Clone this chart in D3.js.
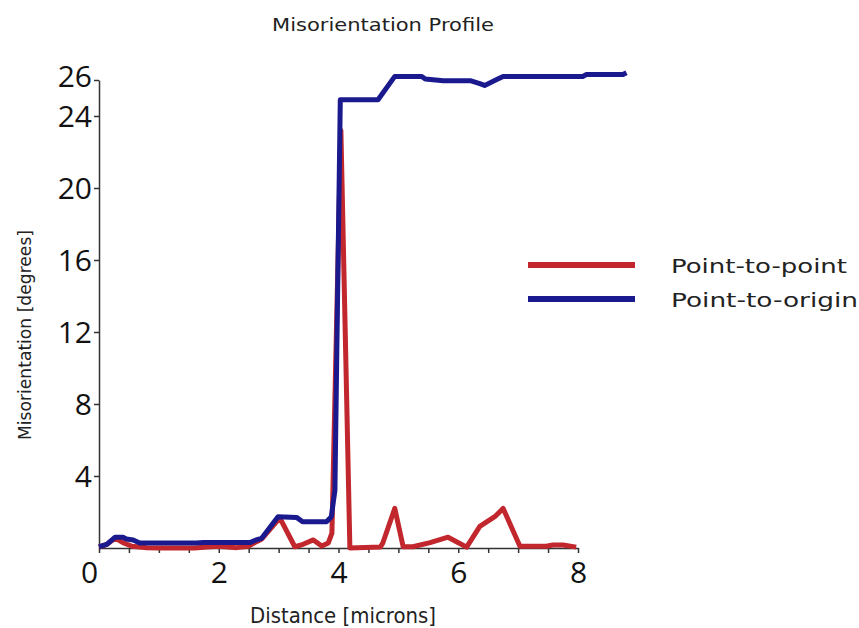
<!DOCTYPE html>
<html>
<head>
<meta charset="utf-8">
<script src="https://cdn.jsdelivr.net/npm/d3@7/dist/d3.min.js"></script>
<style>
body { margin: 0; background: #ffffff; }
</style>
</head>
<body>
<div id="chart"></div>
<script>
// misorientation profile, values

// point-to-point series
var p2p_x = [0, 0.13, 0.27, 0.4, 0.55, 0.8, 1.0, 1.6, 1.8, 2.0, 2.3, 2.5, 2.63, 2.72, 3.02, 3.27, 3.38, 3.58, 3.72, 3.83, 3.89, 4.04, 4.19, 4.7, 4.74, 4.94, 5.08, 5.24, 5.53, 5.83, 5.97, 6.14, 6.36, 6.61, 6.75, 7.03, 7.47, 7.58, 7.75, 7.97];
var p2p_y = [0.05, 0.2, 0.55, 0.3, 0.1, 0.02, 0, 0, 0.05, 0.1, 0.02, 0.1, 0.35, 0.5, 1.67, 0.07, 0.17, 0.45, 0.11, 0.28, 0.83, 23.2, 0, 0.05, 0.28, 2.2, 0.07, 0.07, 0.3, 0.6, 0.35, 0.05, 1.2, 1.74, 2.2, 0.1, 0.1, 0.17, 0.17, 0.05];

// point-to-origin series
var p2o_x = [0, 0.13, 0.27, 0.4, 0.46, 0.57, 0.68, 1.63, 1.74, 2.52, 2.63, 2.72, 2.99, 3.3, 3.4, 3.8, 3.88, 3.94, 4.03, 4.66, 4.94, 5.39, 5.45, 5.75, 6.2, 6.36, 6.44, 6.66, 6.75, 8.08, 8.14, 8.75, 8.81];
var p2o_y = [0.07, 0.2, 0.6, 0.6, 0.5, 0.45, 0.28, 0.28, 0.3, 0.3, 0.45, 0.55, 1.74, 1.7, 1.46, 1.46, 1.74, 3.2, 24.9, 24.9, 26.2, 26.2, 26.05, 25.96, 25.96, 25.8, 25.7, 26.05, 26.2, 26.2, 26.3, 26.3, 26.4];

// axes
var x_ticks = [0, 0.5, 1, 1.5, 2, 2.5, 3, 3.5, 4, 4.5, 5, 5.5, 6, 6.5, 7, 7.5, 8];
var x_labels = [0, 2, 4, 6, 8];
var y_ticks = [4, 8, 12, 16, 20, 24, 26];

// legend
var series_names = ["Point-to-point", "Point-to-origin"];
var series_colors = ["#c1272d", "#1a1a8e"];

// drawing params
const width = 859,
    height = 628,
    x_left = 99, x_right = 578, // x axis extent
    y_top = 80, y_bottom = 548, // y axis extent
    lwidth = 5; // series linewidth

var svg = d3.select("#chart").append("svg")
    .attr("width", width)
    .attr("height", height);

var x = d3.scaleLinear().domain([0, 8]).range([x_left, x_right]);
var y = d3.scaleLinear().domain([0, 26]).range([y_bottom, y_top]);

// title
svg.append("text")
    .attr("x", 383)
    .attr("y", 31)
    .attr("text-anchor", "middle")
    .attr("textLength", 222)
    .attr("lengthAdjust", "spacingAndGlyphs")
    .style("font-family", "DejaVu Sans")
    .style("font-size", "18px")
    .style("fill", "#222")
    .text("Misorientation Profile");

// x axis
var xAxis = svg.append("g")
    .attr("transform", "translate(0," + y_bottom + ")")
    .call(d3.axisBottom(x)
        .tickValues(x_ticks)
        .tickSize(5)
        .tickSizeOuter(0)
        .tickPadding(9)
        .tickFormat(function(d) { return x_labels.indexOf(d) >= 0 ? d : ""; }));

// y axis
var yAxis = svg.append("g")
    .attr("transform", "translate(" + x_left + ",0)")
    .call(d3.axisLeft(y)
        .tickValues(y_ticks)
        .tickSize(5)
        .tickSizeOuter(0)
        .tickPadding(2));

[xAxis, yAxis].forEach(function(ax) {
    ax.select(".domain").attr("stroke", "#333").attr("stroke-width", 1.5);
    ax.selectAll(".tick line").attr("stroke", "#333").attr("stroke-width", 1.5);
    ax.selectAll(".tick text")
        .style("font-family", "Open Sans")
        .style("font-size", "30px")
        .style("fill", "#111");
});
// zero label sits left of the corner
xAxis.selectAll(".tick text").filter(function(d) { return d === 0; }).attr("dx", -10);
// top label pushed up a little so it clears 24
yAxis.selectAll(".tick text").attr("dy", function(d) { return d === 26 ? "0.22em" : "0.36em"; });

// axis titles
svg.append("text")
    .attr("x", 343)
    .attr("y", 623)
    .attr("text-anchor", "middle")
    .attr("textLength", 186)
    .attr("lengthAdjust", "spacingAndGlyphs")
    .style("font-family", "DejaVu Sans")
    .style("font-size", "22px")
    .style("fill", "#222")
    .text("Distance [microns]");

svg.append("text")
    .attr("transform", "translate(31,335) rotate(-90)")
    .attr("text-anchor", "middle")
    .attr("textLength", 210)
    .attr("lengthAdjust", "spacingAndGlyphs")
    .style("font-family", "DejaVu Sans")
    .style("font-size", "17px")
    .style("fill", "#222")
    .text("Misorientation [degrees]");

// lines
var line = d3.line()
    .x(function(d) { return x(d[0]); })
    .y(function(d) { return y(d[1]); });

var series = [d3.zip(p2p_x, p2p_y), d3.zip(p2o_x, p2o_y)];

svg.append("g")
    .selectAll("path")
    .data(series)
    .enter().append("path")
    .attr("d", line)
    .attr("fill", "none")
    .attr("stroke", function(d, i) { return series_colors[i]; })
    .attr("stroke-width", lwidth)
    .attr("stroke-linejoin", "round");

// legend
var legend = svg.append("g")
    .selectAll("g")
    .data(series_names)
    .enter().append("g")
    .attr("transform", function(d, i) { return "translate(528," + (265 + i * 34) + ")"; });

legend.append("line")
    .attr("x1", 0)
    .attr("x2", 107)
    .attr("stroke", function(d, i) { return series_colors[i]; })
    .attr("stroke-width", 6);

legend.append("text")
    .attr("x", 143)
    .attr("y", 8)
    .attr("textLength", function(d, i) { return i == 0 ? 176 : 187; })
    .attr("lengthAdjust", "spacingAndGlyphs")
    .style("font-family", "DejaVu Sans")
    .style("font-size", "20px")
    .style("fill", "#222")
    .text(function(d) { return d; });
</script>
</body>
</html>
